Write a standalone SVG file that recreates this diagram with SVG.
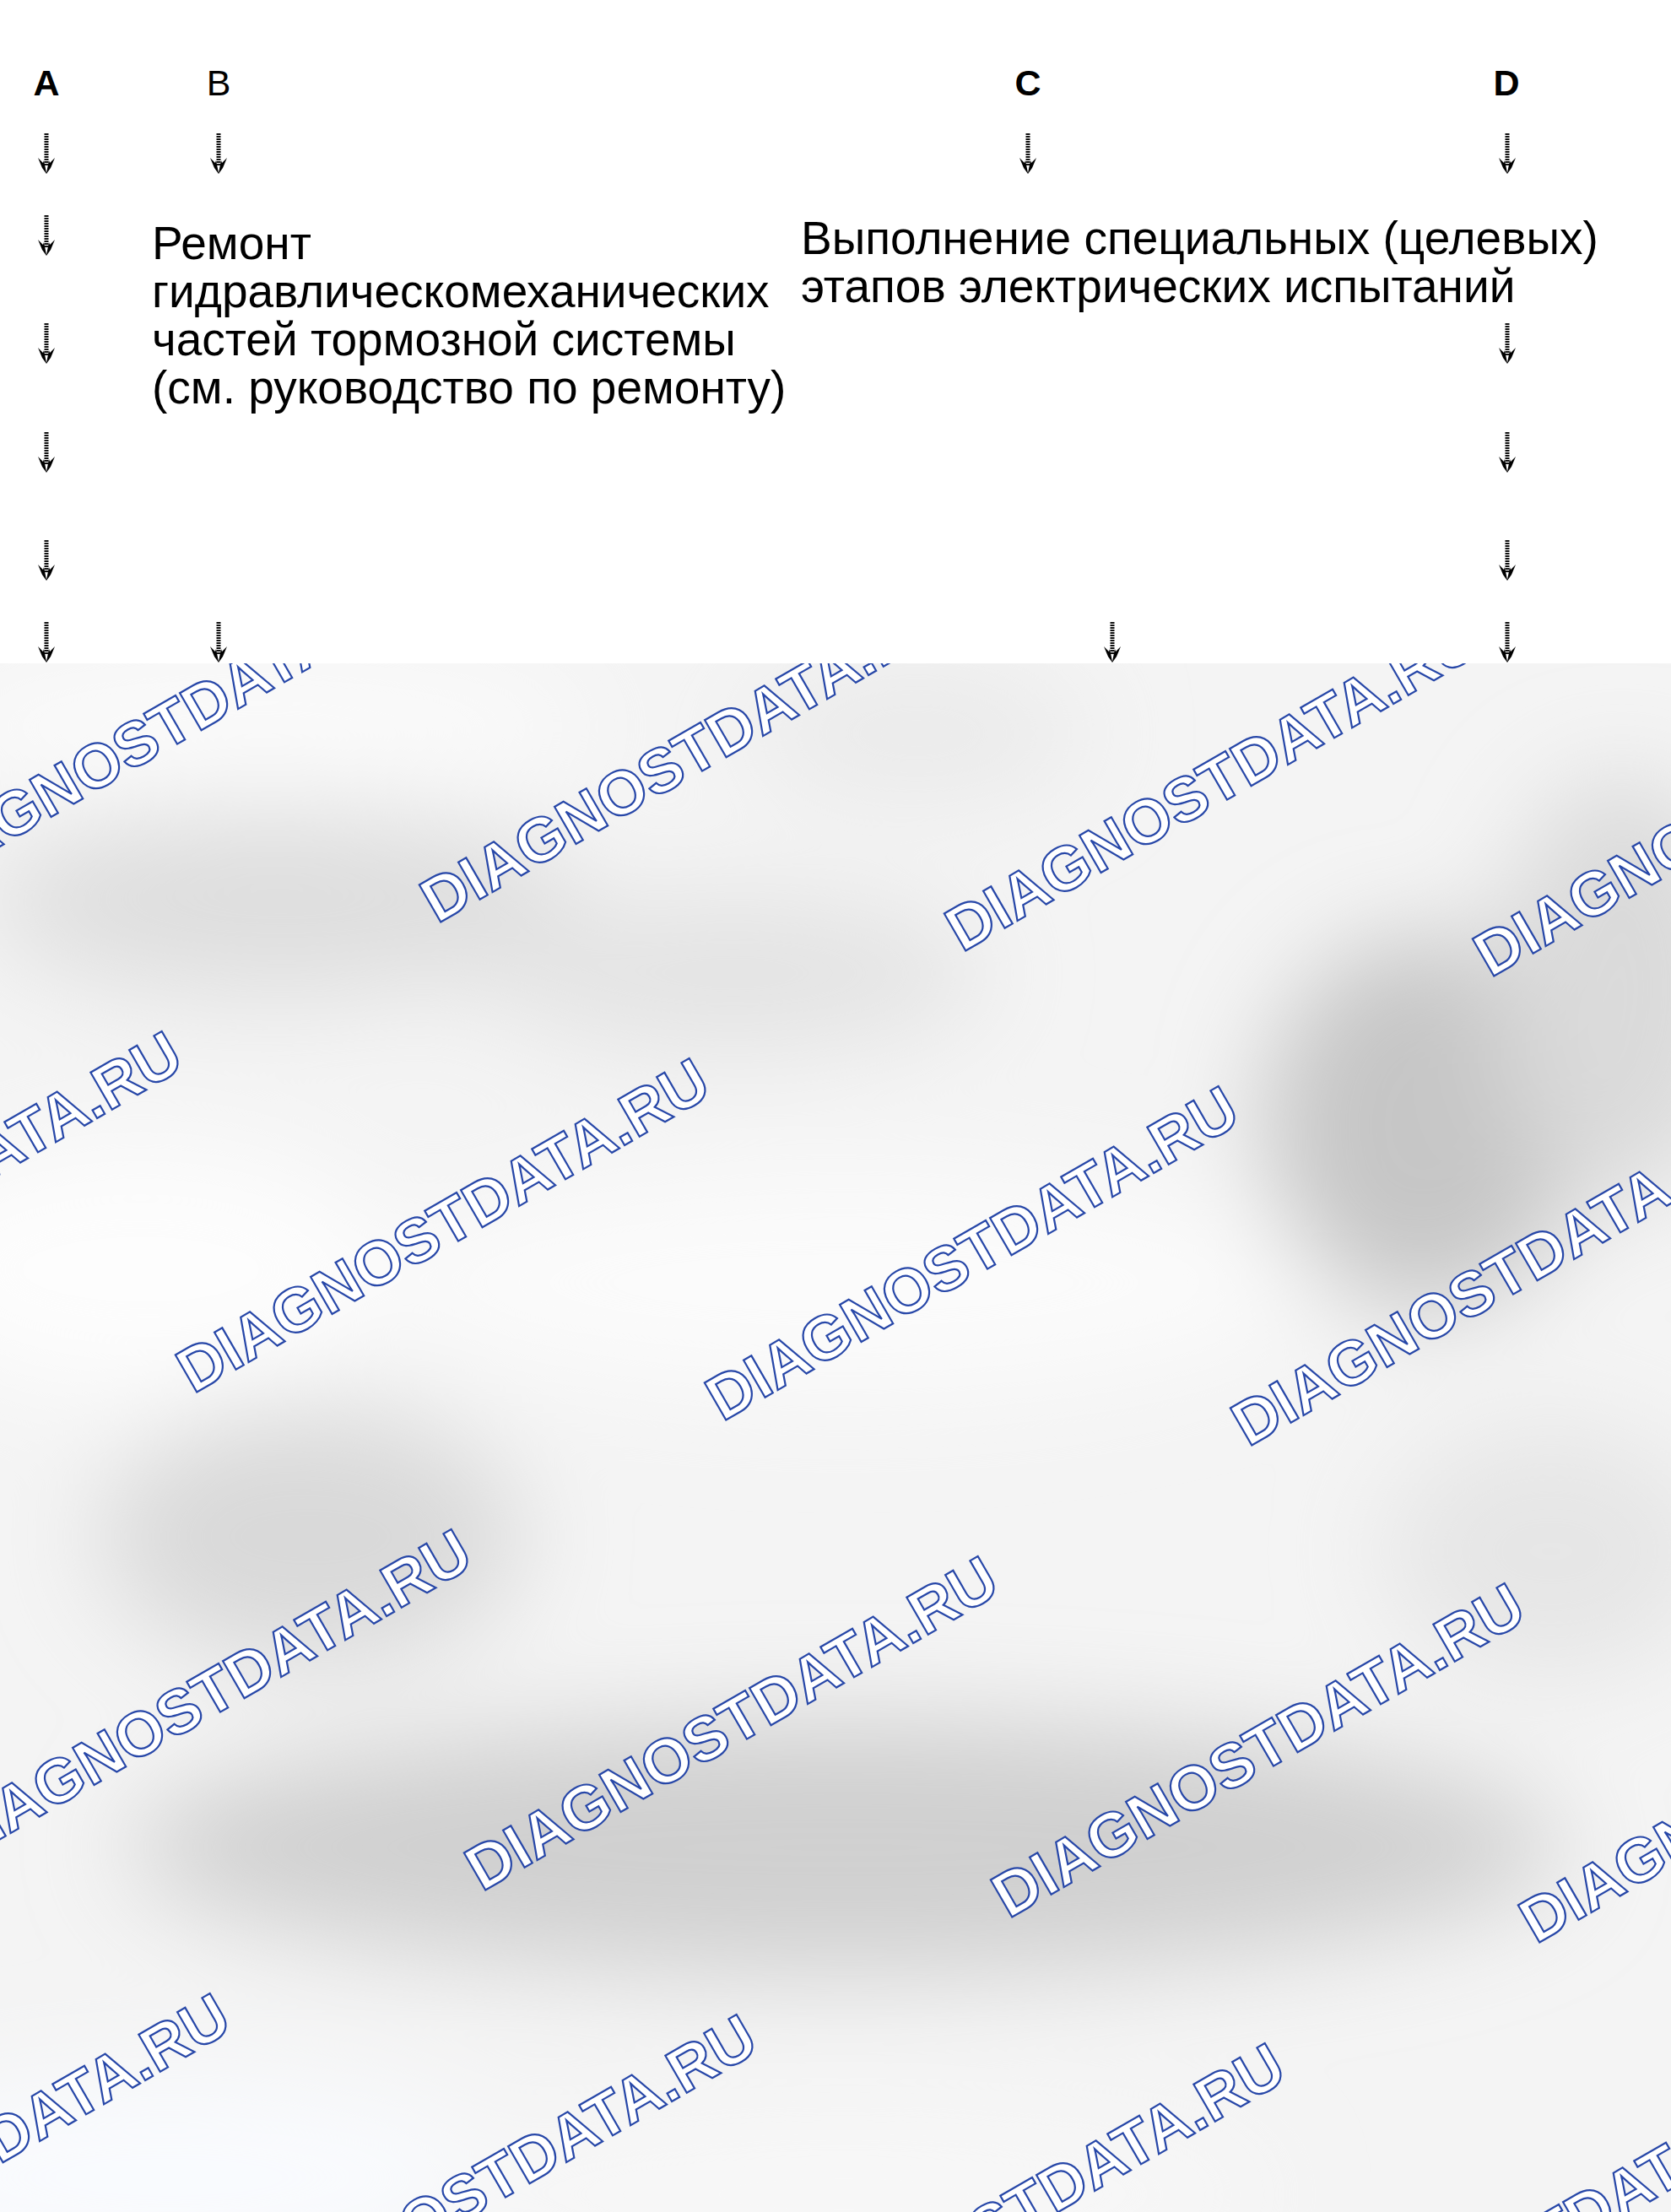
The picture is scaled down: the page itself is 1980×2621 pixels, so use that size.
<svg xmlns="http://www.w3.org/2000/svg" width="1980" height="2621" viewBox="0 0 1980 2621">
<defs>
<style>
.hd{font-family:"Liberation Sans",Arial,sans-serif;font-size:43px;text-anchor:middle;fill:#000}
.b{font-weight:bold}
.tx{font-family:"Liberation Sans",Arial,sans-serif;font-size:55px;fill:#000}
.wm{font-family:"Liberation Sans",Arial,sans-serif;font-size:74px;font-weight:bold;fill:#fff;stroke:#2747a8;stroke-width:2.2}
.sh{stroke:#111;stroke-width:5;stroke-dasharray:2 1}
</style>
<filter id="blur" x="-50%" y="-50%" width="200%" height="200%"><feGaussianBlur stdDeviation="60"/></filter>
<g id="arr"><line class="sh" x1="0" y1="0" x2="0" y2="38"/><path d="M-10,29 L-4,35 L-3,32 L0,47 L3,32 L4,35 L10,29 L5,41 L0,48 L-5,41 Z" fill="#000"/></g>
</defs>
<rect x="0" y="0" width="1980" height="2621" fill="#f4f4f4"/>
<g id="background" filter="url(#blur)">
<ellipse cx="167" cy="1504" rx="300" ry="150" fill="#fdfdfd"/>
<ellipse cx="1000" cy="1520" rx="550" ry="130" fill="#fbfbfb"/>
<ellipse cx="300" cy="860" rx="400" ry="80" fill="#fbfbfb"/>
<ellipse cx="334" cy="1070" rx="350" ry="110" fill="#dedede"/>
<ellipse cx="869" cy="1153" rx="300" ry="90" fill="#e3e3e3"/>
<ellipse cx="1086" cy="869" rx="200" ry="80" fill="#eaeaea"/>
<ellipse cx="1688" cy="1330" rx="190" ry="220" fill="#c6c6c6"/>
<ellipse cx="1922" cy="1170" rx="150" ry="250" fill="#dadada"/>
<ellipse cx="368" cy="1821" rx="250" ry="150" fill="#d9d9d9"/>
<ellipse cx="1838" cy="1838" rx="200" ry="150" fill="#e6e6e6"/>
<ellipse cx="1003" cy="2189" rx="850" ry="150" fill="#d0d0d0"/>
<ellipse cx="200" cy="2580" rx="400" ry="120" fill="#f9fbfe"/>
<ellipse cx="1000" cy="2600" rx="500" ry="80" fill="#f8f8f8"/>
</g>
<g id="watermarks">
<text class="wm" transform="translate(-104,1063) rotate(-30)">DIAGNOSTDATA.RU</text>
<text class="wm" transform="translate(518,1095) rotate(-30)">DIAGNOSTDATA.RU</text>
<text class="wm" transform="translate(1140,1129) rotate(-30)">DIAGNOSTDATA.RU</text>
<text class="wm" transform="translate(1766,1159) rotate(-30)">DIAGNOSTDATA.RU</text>
<text class="wm" transform="translate(-396,1620) rotate(-30)">DIAGNOSTDATA.RU</text>
<text class="wm" transform="translate(229,1652) rotate(-30)">DIAGNOSTDATA.RU</text>
<text class="wm" transform="translate(856,1685) rotate(-30)">DIAGNOSTDATA.RU</text>
<text class="wm" transform="translate(1479,1715) rotate(-30)">DIAGNOSTDATA.RU</text>
<text class="wm" transform="translate(-53,2210) rotate(-30)">DIAGNOSTDATA.RU</text>
<text class="wm" transform="translate(571,2242) rotate(-30)">DIAGNOSTDATA.RU</text>
<text class="wm" transform="translate(1195,2274) rotate(-30)">DIAGNOSTDATA.RU</text>
<text class="wm" transform="translate(1820,2304) rotate(-30)">DIAGNOSTDATA.RU</text>
<text class="wm" transform="translate(-339,2760) rotate(-30)">DIAGNOSTDATA.RU</text>
<text class="wm" transform="translate(285,2785) rotate(-30)">DIAGNOSTDATA.RU</text>
<text class="wm" transform="translate(911,2819) rotate(-30)">DIAGNOSTDATA.RU</text>
<text class="wm" transform="translate(1535,2851) rotate(-30)">DIAGNOSTDATA.RU</text>
</g>
<rect x="0" y="0" width="1980" height="786" fill="#fff"/>
<g id="node-A"><text class="hd b" x="55" y="113">A</text></g>
<g id="node-B"><text class="hd" x="259" y="113">B</text></g>
<g id="node-C"><text class="hd b" x="1218" y="113">C</text></g>
<g id="node-D"><text class="hd b" x="1785" y="113">D</text></g>
<g id="node-repair"><text class="tx"><tspan x="180" y="307">Ремонт</tspan><tspan x="180" y="364">гидравлическомеханических</tspan><tspan x="180" y="421">частей тормозной системы</tspan><tspan x="180" y="478">(см. руководство по ремонту)</tspan></text></g>
<g id="node-tests"><text class="tx"><tspan x="949" y="301">Выполнение специальных (целевых)</tspan><tspan x="949" y="358">этапов электрических испытаний</tspan></text></g>
<g id="connectors">
<use href="#arr" x="55" y="158"/><use href="#arr" x="55" y="255"/><use href="#arr" x="55" y="383"/><use href="#arr" x="55" y="512"/><use href="#arr" x="55" y="640"/><use href="#arr" x="55" y="737"/>
<use href="#arr" x="259" y="158"/><use href="#arr" x="259" y="737"/>
<use href="#arr" x="1218" y="158"/>
<use href="#arr" x="1318" y="737"/>
<use href="#arr" x="1786" y="158"/><use href="#arr" x="1786" y="383"/><use href="#arr" x="1786" y="512"/><use href="#arr" x="1786" y="640"/><use href="#arr" x="1786" y="737"/>
</g>
</svg>
